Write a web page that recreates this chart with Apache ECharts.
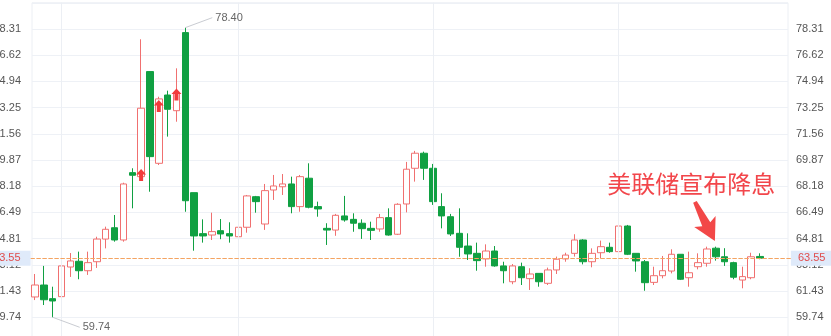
<!DOCTYPE html>
<html>
<head>
<meta charset="utf-8">
<script src="https://cdn.jsdelivr.net/npm/echarts@6/dist/echarts.min.js"></script>
<style>html,body{margin:0;padding:0;background:#fff;}#c{width:831px;height:336px;}</style>
</head>
<body>
<div id="c"></div>
<script>
// ---- data ----
const categories = [];
for (let i = 1; i <= 86; i++) categories.push('D' + i);

const opens  = [61.05,61.82,60.94,61.07,62.98,63.35,62.74,63.32,64.78,65.51,64.72,69.06,68.80,75.57,69.66,74.06,73.05,78.08,67.77,65.13,65.04,65.32,65.13,64.93,65.54,67.51,65.75,67.94,68.15,68.33,66.87,68.70,66.87,65.47,65.36,66.27,66.05,65.80,65.47,65.43,66.16,65.09,67.04,69.34,70.31,69.34,66.87,66.22,65.15,64.33,63.86,63.50,64.01,63.05,62.03,63.00,62.23,62.57,61.93,62.79,63.50,63.86,64.72,63.32,63.90,64.25,63.97,65.62,63.86,63.32,61.99,62.42,62.72,63.80,62.29,63.00,63.22,64.19,63.64,63.26,62.14,62.29,63.66];
const closes = [61.82,60.87,60.79,63.05,63.37,62.74,63.26,64.78,65.41,64.72,68.33,68.89,73.21,70.09,73.81,73.14,74.19,67.25,64.98,64.98,65.26,65.11,64.98,65.54,67.56,67.19,67.90,68.20,68.33,66.87,68.80,66.83,66.72,65.36,66.31,66.01,65.80,65.45,65.34,66.16,65.04,67.02,69.28,70.31,69.34,67.19,66.27,65.11,64.25,63.82,63.39,64.01,63.05,62.74,63.05,62.29,62.53,62.03,62.79,63.48,63.75,64.72,63.32,63.86,64.29,63.97,65.62,63.80,63.37,61.97,62.42,62.74,63.80,62.19,62.61,63.26,64.14,63.64,63.32,62.32,62.36,63.64,63.55];
const lows   = [60.85,60.53,59.74,61.00,62.34,62.19,62.47,62.92,64.18,64.61,64.61,66.76,68.59,67.83,69.55,71.38,72.34,66.54,64.03,64.55,64.72,64.77,64.55,64.61,65.19,66.48,65.37,67.30,67.62,66.44,66.54,66.76,66.22,64.40,64.99,65.90,65.25,64.79,64.72,65.25,65.00,65.04,66.50,68.48,68.59,66.98,65.47,64.98,63.64,63.43,62.74,63.00,63.00,61.93,61.87,61.82,61.50,61.71,61.82,62.53,63.32,63.65,63.15,62.96,63.54,63.90,63.75,63.75,62.68,61.45,61.82,62.25,62.57,62.14,61.71,62.83,63.00,63.39,63.05,62.19,61.61,62.19,63.48];
const highs  = [62.53,63.05,61.71,63.86,63.88,63.97,63.97,64.93,65.58,66.33,68.41,69.34,77.65,75.57,73.95,74.34,75.78,78.40,67.77,66.05,66.48,66.07,65.86,66.01,67.62,67.56,68.33,68.91,68.97,68.80,68.91,69.66,67.19,65.80,66.40,67.56,66.44,66.05,65.90,66.40,66.76,67.09,69.75,70.46,70.41,69.62,67.73,66.40,66.76,65.15,64.55,64.44,64.33,63.32,63.17,63.26,62.90,62.57,62.94,63.65,63.90,65.09,64.77,64.18,64.68,64.55,66.12,65.69,63.86,63.43,63.00,63.69,64.12,63.80,63.97,63.86,64.29,64.29,64.19,63.32,63.00,63.90,63.86];

const axisBase = 59.74;          // first labelled tick
const axisStep = 1.6884;         // tick spacing
const lastPrice = 63.55;
const maxMark = { idx: 17, value: 78.40 };
const minMark = { idx: 2, value: 59.74 };
const signalArrows = [ { idx: 12, value: 68.91 }, { idx: 14, value: 73.35 }, { idx: 16, value: 74.09 } ];
const dividerIdx = [3, 23, 45, 66];
const note = { text: '美联储宣布降息', idx: 74, value: 68.42 };
const noteArrow = { idx: 76, value: 65.91 };

// ---- build ----
const yMin = axisBase - axisStep;
const yMax = axisBase + 12 * axisStep;
const candleData = opens.map((o, i) => [o, closes[i], lows[i], highs[i]]);

const GRID_TOP = 2.8, GRID_H = 340.7;
const labelFont = { color: '#555', fontSize: 11, fontFamily: 'Liberation Sans, Arial, sans-serif' };
const fmt = v => v.toFixed(2);

const chart = echarts.init(document.getElementById('c'), null, { renderer: 'canvas' });
const option = {
  animation: false,
  backgroundColor: '#ffffff',
  grid: [
    { left: 32, right: 43, top: GRID_TOP, height: GRID_H, show: true, borderColor: '#eceff4', borderWidth: 1,
      backgroundColor: 'transparent', containLabel: false, outerBoundsMode: 'none' },
    { left: 30.6, width: 760.3, top: GRID_TOP, height: GRID_H, containLabel: false, outerBoundsMode: 'none' }
  ],
  xAxis: [
    { gridIndex: 0, type: 'value', show: false },
    { gridIndex: 1, type: 'category', data: categories, show: false, boundaryGap: true }
  ],
  yAxis: [
    { gridIndex: 0, position: 'left', min: yMin, max: yMax, interval: axisStep,
      axisLine: { show: false }, axisTick: { show: false },
      axisLabel: Object.assign({ margin: 11, showMaxLabel: false, showMinLabel: false, formatter: fmt }, labelFont),
      splitLine: { show: true, lineStyle: { color: '#eef1f6', width: 1 } } },
    { gridIndex: 0, position: 'right', min: yMin, max: yMax, interval: axisStep,
      axisLine: { show: false }, axisTick: { show: false },
      axisLabel: Object.assign({ margin: 8, showMaxLabel: false, showMinLabel: false, formatter: fmt }, labelFont),
      splitLine: { show: false } },
    { gridIndex: 1, min: yMin, max: yMax, show: false, splitLine: { show: false } }
  ],
  series: [
    {
      type: 'line', xAxisIndex: 1, yAxisIndex: 2, data: [], z: 1, silent: true,
      markLine: {
        silent: true, symbol: 'none', animation: false,
        label: { show: false },
        lineStyle: { color: '#eceff4', type: 'solid', width: 1 },
        data: dividerIdx.map(i => ({ xAxis: categories[i] }))
      }
    },
    {
      type: 'candlestick', xAxisIndex: 1, yAxisIndex: 2, z: 3,
      data: candleData,
      barWidth: 7,
      itemStyle: {
        color: '#ffffff', borderColor: '#f07070',
        color0: '#10a042', borderColor0: '#10a042', borderWidth: 1
      },
      markLine: {
        silent: true, symbol: 'none', animation: false,
        lineStyle: { color: '#f4a462', type: 'dashed', width: 1 },
        data: [
          { yAxis: lastPrice, label: { show: true, position: 'end', distance: 0, formatter: fmt(lastPrice),
              backgroundColor: '#dfeafa', color: '#e04c4c', fontSize: 11, fontFamily: 'Liberation Sans, Arial, sans-serif',
              padding: [2, 8, 2, 7] } },
          { yAxis: lastPrice, label: { show: true, position: 'start', distance: 0, formatter: fmt(lastPrice),
              backgroundColor: '#dfeafa', color: '#e04c4c', fontSize: 11, fontFamily: 'Liberation Sans, Arial, sans-serif',
              padding: [2, 10, 2, 8] } }
        ]
      },
      markPoint: {
        silent: true, animation: false,
        data: signalArrows.map(a => ({
          coord: [categories[a.idx], a.value],
          symbol: 'path://M5,0 L10,6 L7,6 L7,13 L3,13 L3,6 L0,6 Z',
          symbolSize: [10, 12],
          itemStyle: { color: '#f23c3c' },
          label: { show: false }
        })).concat([
          {
            coord: [categories[noteArrow.idx], noteArrow.value],
            symbol: 'path://M10,0 L14,0 L16.5,25 L24,22 L12,44 L0,22 L7.5,25 Z',
            symbolSize: [24, 44], symbolRotate: 27, symbolOffset: [-2, 0],
            itemStyle: { color: '#f24848' }, label: { show: false }
          },
          {
            coord: [categories[note.idx], note.value],
            symbol: 'circle', symbolSize: 1, itemStyle: { color: 'rgba(0,0,0,0)' },
            label: { show: true, position: 'inside', offset: [2, 1], formatter: note.text,
              color: '#f2464b', fontSize: 24, fontFamily: 'Noto Sans CJK SC, sans-serif' }
          }
        ])
      }
    }
  ]
};
chart.setOption(option);

// leader lines for max / min
function leader(mark, dy) {
  const p = chart.convertToPixel({ xAxisIndex: 1, yAxisIndex: 2 }, [categories[mark.idx], mark.value]);
  return [
    { type: 'line', silent: true, z: 10, shape: { x1: p[0], y1: p[1], x2: p[0] + 27, y2: p[1] + dy }, style: { stroke: '#c9ccd2', lineWidth: 1 } },
    { type: 'text', silent: true, z: 10, x: p[0] + 30, y: p[1] + dy, style: { text: fmt(mark.value), fill: '#666', font: '11px Liberation Sans, Arial, sans-serif', textAlign: 'left', textVerticalAlign: 'middle' } }
  ];
}
chart.setOption({ graphic: leader(maxMark, -10).concat(leader(minMark, 10)) });
</script>
</body>
</html>
